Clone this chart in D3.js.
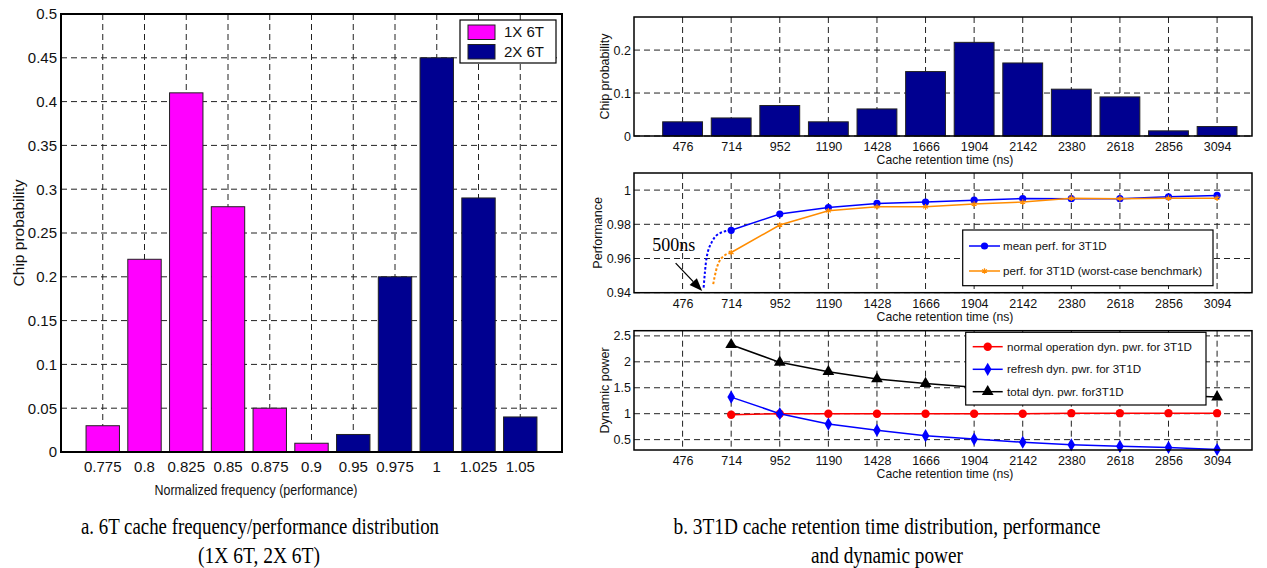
<!DOCTYPE html>
<html><head><meta charset="utf-8">
<script src="https://cdn.jsdelivr.net/npm/d3@7"></script>
<style>
body{margin:0;background:#fff;}
svg{display:block;font-family:"Liberation Sans",Arial,Helvetica,sans-serif;}
</style></head><body>
<svg id="c" width="1267" height="568"></svg>
<script>
// ---------- DATA ----------
const freqCategories = ["0.775","0.8","0.825","0.85","0.875","0.9","0.95","0.975","1","1.025","1.05"];
const chip1X = [0.03,0.22,0.41,0.28,0.05,0.01,0,0,0,0,0];
const chip2X = [0,0,0,0,0,0,0.02,0.2,0.45,0.29,0.04];
const freqYTicks = [0,0.05,0.1,0.15,0.2,0.25,0.3,0.35,0.4,0.45,0.5];
const seriesNamesA = ["1X 6T","2X 6T"];

const retentionTimes = [476,714,952,1190,1428,1666,1904,2142,2380,2618,2856,3094];
const retentionChipProb = [0.033,0.042,0.071,0.033,0.063,0.15,0.218,0.17,0.109,0.091,0.012,0.022];
const probYTicks = [0,0.1,0.2];

const perfTimes = [714,952,1190,1428,1666,1904,2142,2380,2618,2856,3094];
const meanPerf  = [0.9765,0.986,0.9898,0.9922,0.993,0.9941,0.9951,0.995,0.995,0.9961,0.9969];
const worstPerf = [0.9635,0.9796,0.9879,0.9902,0.9902,0.9918,0.993,0.9953,0.995,0.9953,0.9953];
const meanPerfExtrap  = [[579,0.943],[593,0.96],[621,0.97],[662,0.975],[714,0.9765]];
const worstPerfExtrap = [[626,0.945],[640,0.953],[665,0.96],[714,0.9635]];
const perfYTicks = [0.94,0.96,0.98,1];
const perfNames = ["mean perf. for 3T1D","perf. for 3T1D (worst-case benchmark)"];
const arrowAnno = {text:"500ns", textAt:[328,0.9645], from:[442,0.9573], to:[572,0.941]};

const normalPower  = [0.98,1.0,1.0,1.0,1.0,1.0,1.0,1.01,1.01,1.01,1.01];
const refreshPower = [1.32,1.0,0.8,0.68,0.577,0.51,0.45,0.40,0.37,0.35,0.31];
const totalPower   = [2.33,1.99,1.81,1.67,1.58,1.51,1.45,1.41,1.38,1.36,1.32];
const powerYTicks = [0.5,1,1.5,2,2.5];
const powerNames = ["normal operation dyn. pwr. for 3T1D","refresh dyn. pwr. for 3T1D","total dyn. pwr. for3T1D"];

// ---------- DRAW ----------
const svg = d3.select("#c");
const DASH = "6,4";
const GRID = "#222";

function frame(g, x0, x1, y0, y1, w){
  g.append("rect").attr("x",x0).attr("y",y0).attr("width",x1-x0).attr("height",y1-y0)
   .attr("fill","none").attr("stroke","#000").attr("stroke-width",w);
}

// ===== LEFT CHART =====
const LA = {x0:61, x1:562, y0:14, y1:452};
const xA = d3.scaleBand().domain(freqCategories).range([LA.x0,LA.x1]).paddingInner(0.2).paddingOuter(0.6);
const yA = d3.scaleLinear().domain([0,0.5]).range([LA.y1,LA.y0]);
const gA = svg.append("g");
gA.selectAll("line.vg").data(freqCategories).join("line").attr("class","vg")
  .attr("x1",d=>xA(d)+xA.bandwidth()/2).attr("x2",d=>xA(d)+xA.bandwidth()/2)
  .attr("y1",LA.y0).attr("y2",LA.y1).attr("stroke",GRID).attr("stroke-dasharray",DASH).attr("stroke-width",1);
gA.selectAll("line.hg").data(freqYTicks.slice(1,-1)).join("line").attr("class","hg")
  .attr("x1",LA.x0).attr("x2",LA.x1).attr("y1",d=>yA(d)).attr("y2",d=>yA(d))
  .attr("stroke",GRID).attr("stroke-dasharray",DASH).attr("stroke-width",1);
const barsA = freqCategories.map((c,i)=>({c, v1:chip1X[i], v2:chip2X[i]}));
gA.selectAll("rect.b1").data(barsA.filter(d=>d.v1>0)).join("rect").attr("class","b1")
  .attr("x",d=>xA(d.c)).attr("width",xA.bandwidth()).attr("y",d=>yA(d.v1)).attr("height",d=>yA(0)-yA(d.v1))
  .attr("fill","#FF00FF").attr("stroke","#222").attr("stroke-width",1);
gA.selectAll("rect.b2").data(barsA.filter(d=>d.v2>0)).join("rect").attr("class","b2")
  .attr("x",d=>xA(d.c)).attr("width",xA.bandwidth()).attr("y",d=>yA(d.v2)).attr("height",d=>yA(0)-yA(d.v2))
  .attr("fill","#000090").attr("stroke","#222").attr("stroke-width",1);
const axYA = gA.append("g").attr("transform",`translate(${LA.x0},0)`)
  .call(d3.axisLeft(yA).tickValues(freqYTicks).tickSize(0).tickPadding(4).tickFormat(d=>String(d)));
const axXA = gA.append("g").attr("transform",`translate(0,${LA.y1})`)
  .call(d3.axisBottom(xA).tickSize(0).tickPadding(9));
[axYA,axXA].forEach(a=>{a.select(".domain").remove(); a.selectAll("text").attr("font-size",15).attr("fill","#111").attr("font-family","Liberation Sans, Arial");});
frame(gA, LA.x0, LA.x1, LA.y0, LA.y1, 2);
gA.append("text").attr("x",256).attr("y",495).attr("text-anchor","middle").attr("font-size",15)
  .attr("textLength",203).attr("lengthAdjust","spacingAndGlyphs").attr("fill","#111")
  .text("Normalized frequency (performance)");
gA.append("text").attr("transform",`translate(24,${(LA.y0+LA.y1)/2}) rotate(-90)`).attr("text-anchor","middle")
  .attr("font-size",15.5).attr("fill","#111").text("Chip probability");
// legend
const legA = gA.append("g");
legA.append("rect").attr("x",460).attr("y",20).attr("width",96).attr("height",43).attr("fill","#fff").attr("stroke","#000").attr("stroke-width",1.2);
const legAColors = ["#FF00FF","#000090"];
seriesNamesA.forEach((n,i)=>{
  legA.append("rect").attr("x",468).attr("y",25+i*19.5).attr("width",27).attr("height",14.5).attr("fill",legAColors[i]).attr("stroke","#222");
  legA.append("text").attr("x",504).attr("y",32+i*19.5).attr("dy","0.36em").attr("font-size",15).attr("fill","#111").text(n);
});

// ===== RIGHT CHARTS =====
const RX0 = 634, RX1 = 1252;
const xR = d3.scaleLinear().domain([238,3265]).range([RX0,RX1]);

function rightPanel(y0, y1, domain, yticks, ylabel, ylabelX){
  const y = d3.scaleLinear().domain(domain).range([y1,y0]);
  const g = svg.append("g");
  g.selectAll("line.vg").data(retentionTimes).join("line").attr("class","vg")
    .attr("x1",d=>xR(d)).attr("x2",d=>xR(d)).attr("y1",y0).attr("y2",y1)
    .attr("stroke",GRID).attr("stroke-dasharray",DASH).attr("stroke-width",1);
  g.selectAll("line.hg").data(yticks).join("line").attr("class","hg")
    .attr("x1",RX0).attr("x2",RX1).attr("y1",d=>y(d)).attr("y2",d=>y(d))
    .attr("stroke",GRID).attr("stroke-dasharray",DASH).attr("stroke-width",1);
  const ay = g.append("g").attr("transform",`translate(${RX0},0)`)
    .call(d3.axisLeft(y).tickValues(yticks).tickSize(0).tickPadding(3).tickFormat(d=>String(d)));
  const ax = g.append("g").attr("transform",`translate(0,${y1})`)
    .call(d3.axisBottom(xR).tickValues(retentionTimes).tickSize(0).tickPadding(6).tickFormat(d=>String(d)));
  [ay,ax].forEach(a=>{a.select(".domain").remove(); a.selectAll("text").attr("font-size",12.5).attr("fill","#111").attr("font-family","Liberation Sans, Arial");});
  g.append("text").attr("x",945).attr("y",y1+28).attr("text-anchor","middle").attr("font-size",12.2).attr("fill","#111")
    .text("Cache retention time (ns)");
  g.append("text").attr("transform",`translate(${ylabelX},${(y0+y1)/2}) rotate(-90)`).attr("text-anchor","middle")
    .attr("font-size",12.5).attr("fill","#111").text(ylabel);
  return {g,y,y0,y1};
}

// top: chip probability
const P1 = rightPanel(17, 136, [0,0.277], probYTicks, "Chip probability", 609);
const bw = 0.82*(xR(714)-xR(476));
P1.g.selectAll("rect.bar").data(retentionTimes.map((t,i)=>({t,v:retentionChipProb[i]}))).join("rect")
  .attr("x",d=>xR(d.t)-bw/2).attr("width",bw).attr("y",d=>P1.y(d.v)).attr("height",d=>P1.y(0)-P1.y(d.v))
  .attr("fill","#000090").attr("stroke","#222").attr("stroke-width",1);
frame(P1.g, RX0, RX1, 17, 136, 1.5);

// middle: performance
const P2 = rightPanel(173, 292.7, [0.94,1.01], perfYTicks, "Performance", 602);
const lineP = d3.line().x(d=>xR(d[0])).y(d=>P2.y(d[1]));
const curveP = d3.line().x(d=>xR(d[0])).y(d=>P2.y(d[1])).curve(d3.curveMonotoneX);
P2.g.append("path").attr("d",curveP(meanPerfExtrap)).attr("fill","none").attr("stroke","#0000FF").attr("stroke-width",2).attr("stroke-dasharray","2.5,2");
P2.g.append("path").attr("d",curveP(worstPerfExtrap)).attr("fill","none").attr("stroke","#FF8C00").attr("stroke-width",2).attr("stroke-dasharray","2.5,2");
const meanPts = perfTimes.map((t,i)=>[t,meanPerf[i]]);
const worstPts = perfTimes.map((t,i)=>[t,worstPerf[i]]);
P2.g.append("path").attr("d",lineP(meanPts)).attr("fill","none").attr("stroke","#0000FF").attr("stroke-width",1.5);
P2.g.selectAll("circle.m").data(meanPts).join("circle").attr("cx",d=>xR(d[0])).attr("cy",d=>P2.y(d[1])).attr("r",3.6).attr("fill","#0000FF");
P2.g.append("path").attr("d",lineP(worstPts)).attr("fill","none").attr("stroke","#FF8C00").attr("stroke-width",1.5);
const starSym = d3.symbol().type(d3.symbolAsterisk || d3.symbolCross).size(22);
P2.g.selectAll("path.w").data(worstPts).join("path").attr("class","w")
  .attr("transform",d=>`translate(${xR(d[0])},${P2.y(d[1])})`).attr("d",starSym())
  .attr("fill","none").attr("stroke","#FF8C00").attr("stroke-width",1.2);
// arrow annotation
{
  const fx=xR(arrowAnno.from[0]), fy=P2.y(arrowAnno.from[1]);
  const tx=xR(arrowAnno.to[0]), ty=P2.y(arrowAnno.to[1]);
  const ang=Math.atan2(ty-fy,tx-fx), L=13, Wd=5;
  const bx=tx-L*Math.cos(ang), by=ty-L*Math.sin(ang);
  P2.g.append("line").attr("x1",fx).attr("y1",fy).attr("x2",bx).attr("y2",by).attr("stroke","#000").attr("stroke-width",1.3);
  P2.g.append("path").attr("d",`M${tx},${ty}L${bx+Wd*Math.sin(ang)},${by-Wd*Math.cos(ang)}L${bx-Wd*Math.sin(ang)},${by+Wd*Math.cos(ang)}Z`).attr("fill","#000");
  P2.g.append("text").attr("x",xR(arrowAnno.textAt[0])).attr("y",P2.y(arrowAnno.textAt[1]))
    .attr("font-family","Liberation Serif, Times New Roman, serif").attr("font-size",18).attr("fill","#000").text(arrowAnno.text);
}
frame(P2.g, RX0, RX1, 173, 292.7, 1.5);
// legend middle
{
  const lg = P2.g.append("g");
  lg.append("rect").attr("x",962.7).attr("y",230).attr("width",250.3).attr("height",55.7).attr("fill","#fff").attr("stroke","#000").attr("stroke-width",1.2);
  const ys=[246,271], cols=["#0000FF","#FF8C00"];
  perfNames.forEach((n,i)=>{
    lg.append("line").attr("x1",969).attr("x2",1000).attr("y1",ys[i]).attr("y2",ys[i]).attr("stroke",cols[i]).attr("stroke-width",1.5);
    if(i===0) lg.append("circle").attr("cx",984.5).attr("cy",ys[i]).attr("r",3.6).attr("fill",cols[i]);
    else lg.append("path").attr("transform",`translate(984.5,${ys[i]})`).attr("d",starSym()).attr("fill","none").attr("stroke",cols[i]).attr("stroke-width",1.2);
    lg.append("text").attr("x",1003).attr("y",ys[i]).attr("dy","0.36em").attr("font-size",11.6).attr("fill","#111").text(n);
  });
}

// bottom: dynamic power
const P3 = rightPanel(330.7, 450, [0.3,2.6], powerYTicks, "Dynamic power", 609);
const lineD = d3.line().x(d=>xR(d[0])).y(d=>P3.y(d[1]));
const pSeries = [
  {v:normalPower, c:"#FF0000", sym:d3.symbolCircle, size:55},
  {v:refreshPower, c:"#0000FF", sym:d3.symbolDiamond, size:50},
  {v:totalPower, c:"#000000", sym:d3.symbolTriangle, size:60}
];
pSeries.forEach(s=>{
  const pts = perfTimes.map((t,i)=>[t,s.v[i]]);
  P3.g.append("path").attr("d",lineD(pts)).attr("fill","none").attr("stroke",s.c).attr("stroke-width",1.5);
  P3.g.selectAll(null).data(pts).join("path").attr("transform",d=>`translate(${xR(d[0])},${P3.y(d[1])})`)
    .attr("d",d3.symbol().type(s.sym).size(s.size)()).attr("fill",s.c);
});
frame(P3.g, RX0, RX1, 330.7, 450, 1.5);
{
  const lg = P3.g.append("g");
  lg.append("rect").attr("x",965.7).attr("y",332.3).attr("width",240.3).attr("height",72.7).attr("fill","#fff").attr("stroke","#000").attr("stroke-width",1.2);
  const ys=[346.7,369.3,391.7];
  pSeries.forEach((s,i)=>{
    lg.append("line").attr("x1",972.7).attr("x2",1002.7).attr("y1",ys[i]).attr("y2",ys[i]).attr("stroke",s.c).attr("stroke-width",1.5);
    lg.append("path").attr("transform",`translate(987.7,${ys[i]})`).attr("d",d3.symbol().type(s.sym).size(s.size)()).attr("fill",s.c);
    lg.append("text").attr("x",1007).attr("y",ys[i]).attr("dy","0.36em").attr("font-size",11.6).attr("fill","#111").text(powerNames[i]);
  });
}

// ===== CAPTIONS =====
const cap = svg.append("g").attr("font-family","Liberation Serif, Times New Roman, serif").attr("font-size",23).attr("fill","#000").attr("text-anchor","middle");
cap.append("text").attr("x",260).attr("y",534).attr("textLength",358).attr("lengthAdjust","spacingAndGlyphs").text("a. 6T cache frequency/performance distribution");
cap.append("text").attr("x",259).attr("y",563).attr("textLength",122).attr("lengthAdjust","spacingAndGlyphs").text("(1X 6T, 2X 6T)");
cap.append("text").attr("x",887).attr("y",534).attr("textLength",427).attr("lengthAdjust","spacingAndGlyphs").text("b. 3T1D cache retention time distribution, performance");
cap.append("text").attr("x",887).attr("y",563).attr("textLength",152).attr("lengthAdjust","spacingAndGlyphs").text("and dynamic power");
</script>
</body></html>
